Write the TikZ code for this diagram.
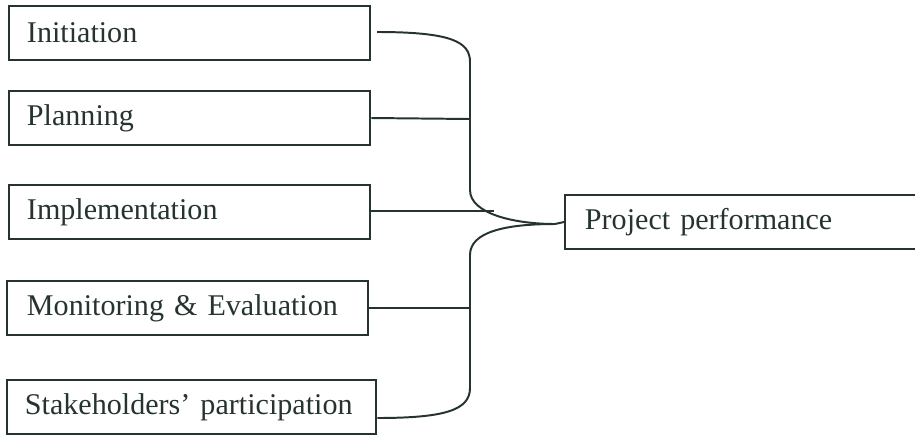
\documentclass[tikz,border=0pt]{standalone}
\usepackage{fontspec}
\setmainfont{Liberation Serif}
\usepackage{xcolor}
\usepackage{tikz}
\usetikzlibrary{positioning, calc}
\definecolor{inkgrey}{RGB}{38, 52, 48}

\begin{document}
\begin{tikzpicture}[x=0.025cm, y=-0.025cm,
    stagebox/.style={draw=inkgrey, line width=1.4pt, rectangle, anchor=west,
        minimum height=1.37cm, minimum width=9.03cm, inner xsep=0.45cm,
        text width=8.13cm, align=left, text=inkgrey,
        font=\fontsize{21.4}{24}\selectfont},
    link/.style={draw=inkgrey, line width=1.4pt}]
    % Page (keep the scan's margins)
    \useasboundingbox (0,0) rectangle (915,436);

    % The Stages
    \node[stagebox] (init) at (8,33) {Initiation};
    \node[stagebox] (plan) at (8,118) {Planning};
    \node[stagebox] (impl) at (8,212) {Implementation};
    \node[stagebox, inner xsep=0.5cm, text width=8.03cm] (mone) at (6,308) {Monitoring \& Evaluation};
    \node[stagebox, minimum width=9.23cm, text width=8.33cm] (stak) at (6,407) {Stakeholders' participation};

    % The Outcome
    \node[stagebox, minimum width=9.5cm, text width=8.5cm, inner xsep=0.5cm] (perf) at (564,222) {Project performance};

    % Bus points
    \coordinate (inTop) at (377,32);
    \coordinate (busA) at (470,62);
    \coordinate (busB) at (470,190);
    \coordinate (busP) at (470,119);
    \coordinate (join) at (555,224);
    \coordinate (busC) at (470,255);
    \coordinate (busD) at (470,388);
    \coordinate (busM) at (470,308);
    \coordinate (busI) at (494,211);

    % Upper branch
    \draw[link] (inTop) .. controls (452,32) and (470,42) .. (busA) -- (busB)
        .. controls (470,214) and (515,224) .. (join) -- (perf.west);
    % Lower branch
    \draw[link] (join) .. controls (505,224) and (470,232) .. (busC) -- (busD)
        .. controls (470,410) and (445,418) .. (stak.east |- 0,418);
    % Feeders
    \draw[link] (plan.east) -- (busP);
    \draw[link] (impl.east |- busI) -- (busI);
    \draw[link] (mone.east) -- (busM);
\end{tikzpicture}
\end{document}
